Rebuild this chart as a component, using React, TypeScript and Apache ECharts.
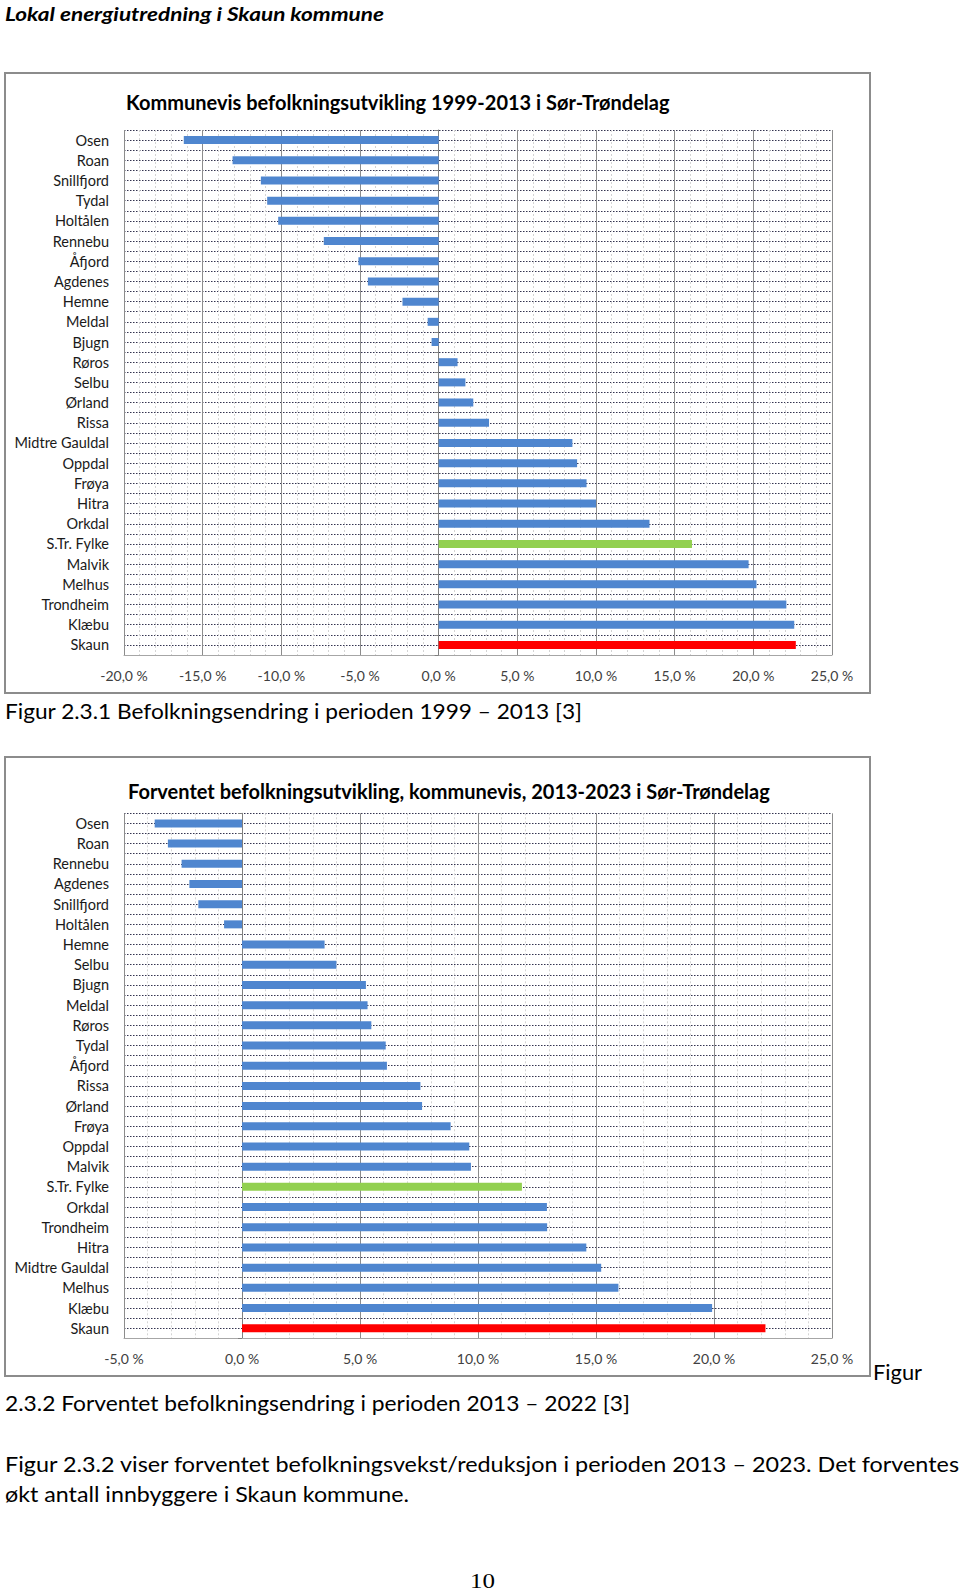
import React, { useEffect, useLayoutEffect, useRef } from 'react';
import * as echarts from 'echarts';

// ---------- data ----------
const headerText = 'Lokal energiutredning i Skaun kommune';

const title1 = 'Kommunevis befolkningsutvikling 1999-2013 i Sør-Trøndelag';
const cats1 = ['Osen', 'Roan', 'Snillfjord', 'Tydal', 'Holtålen', 'Rennebu', 'Åfjord', 'Agdenes', 'Hemne', 'Meldal', 'Bjugn', 'Røros', 'Selbu', 'Ørland', 'Rissa', 'Midtre Gauldal', 'Oppdal', 'Frøya', 'Hitra', 'Orkdal', 'S.Tr. Fylke', 'Malvik', 'Melhus', 'Trondheim', 'Klæbu', 'Skaun'];
const vals1 = [-16.2, -13.1, -11.3, -10.9, -10.2, -7.3, -5.1, -4.5, -2.3, -0.7, -0.45, 1.2, 1.7, 2.2, 3.2, 8.5, 8.8, 9.4, 10.0, 13.4, 16.1, 19.7, 20.2, 22.1, 22.6, 22.7];
const axis1Min = -20;
const axis1Max = 25;

const title2 = 'Forventet befolkningsutvikling, kommunevis, 2013-2023 i Sør-Trøndelag';
const cats2 = ['Osen', 'Roan', 'Rennebu', 'Agdenes', 'Snillfjord', 'Holtålen', 'Hemne', 'Selbu', 'Bjugn', 'Meldal', 'Røros', 'Tydal', 'Åfjord', 'Rissa', 'Ørland', 'Frøya', 'Oppdal', 'Malvik', 'S.Tr. Fylke', 'Orkdal', 'Trondheim', 'Hitra', 'Midtre Gauldal', 'Melhus', 'Klæbu', 'Skaun'];
const vals2 = [-3.7, -3.14, -2.56, -2.23, -1.85, -0.76, 3.5, 4.0, 5.25, 5.32, 5.48, 6.09, 6.14, 7.56, 7.63, 8.84, 9.63, 9.7, 11.86, 12.92, 12.93, 14.59, 15.22, 15.95, 19.92, 22.18];
const axis2Min = -5;
const axis2Max = 25;
const axisInterval = 5;

const countyName = 'S.Tr. Fylke';
const homeName = 'Skaun';

const caption1 = 'Figur 2.3.1 Befolkningsendring i perioden 1999 – 2013 [3]';
const caption2a = 'Figur';
const caption2b = '2.3.2 Forventet befolkningsendring i perioden 2013 – 2022 [3]';
const para1 = 'Figur 2.3.2 viser forventet befolkningsvekst/reduksjon i perioden 2013 – 2023. Det forventes';
const para2 = 'økt antall innbyggere i Skaun kommune.';
const pageNo = '10';

// ---------- styles ----------
const BLUE = '#4f86cf';
const GREEN = '#92d050';
const RED = '#ff0000';
const FONT = 'Lato, "Open Sans", sans-serif';

const BOX_W = 867;

function colorFor(name: string) {
  if (name === countyName) return GREEN;
  if (name === homeName) return RED;
  return BLUE;
}

function pct(v: number) {
  return v.toFixed(1).replace('.', ',') + ' %';
}

function makeOption(title: string, cats: string[], vals: number[], min: number, max: number, boxH: number, titleLeft: number, titleTop: number, gridTop: number) {
  const n = cats.length;
  return {
    animation: false,
    backgroundColor: '#ffffff',
    textStyle: { fontFamily: FONT },
    title: {
      text: title,
      left: titleLeft,
      top: titleTop,
      padding: 0,
      textStyle: { fontFamily: FONT, fontWeight: 'bold', fontSize: 20, color: '#000000', lineHeight: 24 },
    },
    graphic: [
      {
        type: 'rect',
        silent: true,
        z: 100,
        shape: { x: 1, y: 1, width: BOX_W - 2, height: boxH - 2 },
        style: { fill: 'none', stroke: '#8c8c8c', lineWidth: 2 },
      },
    ],
    grid: { left: 120, top: gridTop, width: 708, height: 525, containLabel: false },
    xAxis: {
      type: 'value',
      min,
      max,
      interval: axisInterval,
      axisLine: { show: true, onZero: false, lineStyle: { color: '#a6a6a6', width: 1 } },
      axisTick: { show: false },
      axisLabel: { formatter: (v: number) => pct(v), fontFamily: FONT, fontSize: 14, color: '#404040', margin: 13 },
      splitLine: { show: true, lineStyle: { color: '#8c8c8c', width: 1 } },
      minorTick: { show: false, splitNumber: 5 },
      minorSplitLine: { show: true, lineStyle: { color: '#d4d4d4', width: 1, type: [2, 2] } },
    },
    yAxis: [
      {
        type: 'category',
        data: cats,
        inverse: true,
        position: 'left',
        axisLine: { show: false, onZero: false },
        axisTick: { show: false },
        axisLabel: { fontFamily: FONT, fontSize: 14.5, color: '#1a1a1a', margin: 15 },
        splitLine: { show: false },
      },
      {
        type: 'value',
        min: 0,
        max: 2 * n,
        interval: 1,
        position: 'left',
        axisLine: { show: false, onZero: false },
        axisTick: { show: false },
        axisLabel: { show: false },
        splitLine: { show: true, lineStyle: { color: '#33334f', width: 1, type: [1.5, 1.5] } },
      },
      {
        type: 'category',
        data: cats,
        inverse: true,
        position: 'left',
        axisLine: { show: true, onZero: true, lineStyle: { color: '#7f7f7f', width: 1 } },
        axisTick: { show: true, length: 4, lineStyle: { color: '#7f7f7f' } },
        axisLabel: { show: false },
        splitLine: { show: false },
      },
    ],
    series: [
      {
        type: 'bar',
        yAxisIndex: 0,
        barWidth: 8,
        data: vals.map((v, i) => ({ value: v, itemStyle: { color: colorFor(cats[i]) } })),
      },
    ],
  };
}

function Chart({ option, left, top, width, height }: { option: any; left: number; top: number; width: number; height: number }) {
  const ref = useRef<HTMLDivElement>(null);
  useEffect(() => {
    if (!ref.current) return;
    const chart = echarts.init(ref.current, undefined, { renderer: 'svg' });
    chart.setOption(option);
    return () => chart.dispose();
  }, [option]);
  return <div ref={ref} style={{ position: 'absolute', left, top, width, height }} />;
}

function FitText({ text, x, cy, w, style }: { text: string; x: number; cy: number; w: number; style: React.CSSProperties }) {
  const ref = useRef<HTMLSpanElement>(null);
  useLayoutEffect(() => {
    const el = ref.current;
    if (!el) return;
    el.style.transform = 'translateY(-50%)';
    const actual = el.getBoundingClientRect().width;
    if (actual > 0) el.style.transform = `translateY(-50%) scaleX(${w / actual})`;
  }, [text, w]);
  return (
    <span
      ref={ref}
      style={{
        position: 'absolute',
        left: x,
        top: cy,
        whiteSpace: 'nowrap',
        transformOrigin: '0 0',
        lineHeight: 1,
        color: '#000',
        ...style,
      }}
    >
      {text}
    </span>
  );
}

const option1 = makeOption(title1, cats1, vals1, axis1Min, axis1Max, 622, 122, 18, 58);
const option2 = makeOption(title2, cats2, vals2, axis2Min, axis2Max, 621, 124, 23, 57.3);

const docFont: React.CSSProperties = { fontFamily: FONT, fontSize: 22 };

export default function App() {
  useEffect(() => {
    document.body.style.margin = '0';
  }, []);
  return (
    <div style={{ position: 'absolute', left: 0, top: 0, width: 960, height: 1593, background: '#fff', overflow: 'hidden' }}>
      <FitText text={headerText} x={5} cy={13} w={379} style={{ fontFamily: FONT, fontSize: 19, fontWeight: 'bold', fontStyle: 'italic' }} />
      <Chart option={option1} left={4} top={72} width={BOX_W} height={622} />
      <FitText text={caption1} x={5} cy={711} w={577} style={docFont} />
      <Chart option={option2} left={4} top={756} width={BOX_W} height={621} />
      <FitText text={caption2a} x={873} cy={1372} w={49} style={docFont} />
      <FitText text={caption2b} x={5} cy={1403} w={625} style={docFont} />
      <FitText text={para1} x={5} cy={1464} w={954} style={docFont} />
      <FitText text={para2} x={5} cy={1494} w={404} style={docFont} />
      <FitText text={pageNo} x={470} cy={1581} w={25} style={{ fontFamily: '"Liberation Serif", serif', fontSize: 21 }} />
    </div>
  );
}
